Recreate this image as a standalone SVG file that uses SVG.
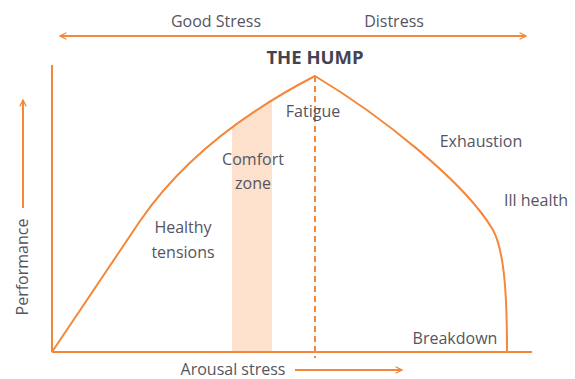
<svg xmlns="http://www.w3.org/2000/svg" width="575" height="379" viewBox="0 0 575 379">
<defs>
<style>
.t{font-family:"Open Sans","Liberation Sans",sans-serif;font-size:16px;fill:#555560;text-anchor:middle}
.ln{stroke:#f5873a;stroke-width:2;fill:none}
</style>
<marker id="ah" viewBox="0 0 10 10" refX="9" refY="5" markerWidth="8" markerHeight="8" orient="auto-start-reverse" markerUnits="userSpaceOnUse">
<path d="M1,1 L9,5 L1,9" fill="none" stroke="#f5873a" stroke-width="1.6"/>
</marker>
<clipPath id="under">
<path d="M52,352 L140,221 C175,170 230,120 315,76 L315,352 Z"/>
</clipPath>
</defs>
<rect width="575" height="379" fill="#fff"/>
<g id="comfort-zone">
<rect x="232" y="90" width="40" height="262" fill="#fde1cc" clip-path="url(#under)"/>
</g>
<g id="axes">
<line class="ln" x1="52" y1="65" x2="52" y2="352"/>
<line class="ln" x1="52" y1="352" x2="532" y2="352"/>
</g>
<g id="connectors">
<line class="ln" x1="60" y1="36" x2="526" y2="36" marker-start="url(#ah)" marker-end="url(#ah)"/>
<line class="ln" x1="23" y1="208" x2="23" y2="100" marker-end="url(#ah)"/>
<line class="ln" x1="295" y1="370" x2="402" y2="370" marker-end="url(#ah)"/>
<line class="ln" x1="315" y1="76" x2="315" y2="358" stroke-dasharray="6,4"/>
</g>
<g id="curve">
<path class="ln" d="M52,352 L140,221 C175,170 230,120 315,76 C380,115 465,182 493,230 C505,252 507,300 507,352"/>
</g>
<g id="labels">
<text class="t" x="216" y="27">Good Stress</text>
<text class="t" x="394" y="27">Distress</text>
<text class="t" x="315" y="64" style="font-weight:bold;font-size:18.5px;fill:#444450">THE HUMP</text>
<text class="t" x="313" y="117">Fatigue</text>
<text class="t" x="253" y="165">Comfort</text>
<text class="t" x="253" y="189">zone</text>
<text class="t" x="183" y="233">Healthy</text>
<text class="t" x="183" y="258">tensions</text>
<text class="t" x="481" y="147">Exhaustion</text>
<text class="t" x="536" y="206">Ill health</text>
<text class="t" x="455" y="344">Breakdown</text>
<text class="t" x="233" y="375">Arousal stress</text>
<text class="t" x="28" y="267" transform="rotate(-90 28 267)">Performance</text>
</g>
</svg>
